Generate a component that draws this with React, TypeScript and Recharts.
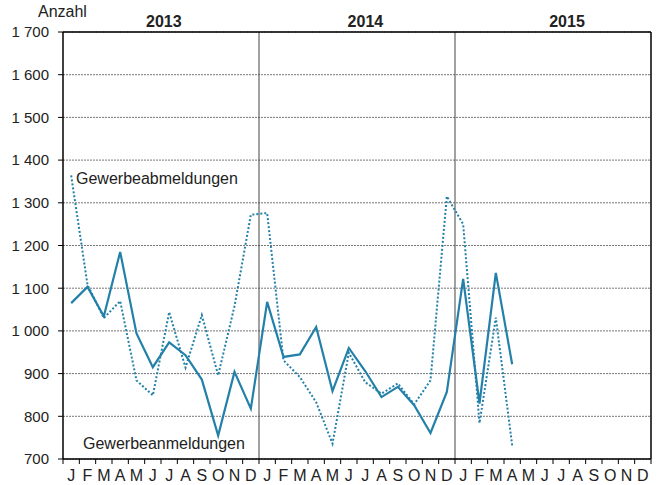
import { LineChart, Line, XAxis, YAxis, CartesianGrid, ReferenceLine } from 'recharts';

const years = ['2013', '2014', '2015'];
const monthLetters = ['J', 'F', 'M', 'A', 'M', 'J', 'J', 'A', 'S', 'O', 'N', 'D'];

// Gewerbeanmeldungen (solid line), Jan 2013 – Apr 2015
const anmeldungen = [
    1065, 1103, 1034, 1185, 994, 915, 973, 943, 886, 755, 904, 818,
    1068, 939, 945, 1009, 859, 960, 906, 845, 869, 826, 761, 857,
    1122, 830, 1136, 922,
];

// Gewerbeabmeldungen (dotted line)
const abmeldungen = [
    1364, 1108, 1030, 1070, 884, 849, 1044, 914, 1037, 896, 1058, 1272,
    1276, 931, 892, 833, 736, 949, 880, 853, 877, 828, 884, 1315,
    1250, 784, 1031, 732,
];

const yTicks = [700, 800, 900, 1000, 1100, 1200, 1300, 1400, 1500, 1600, 1700];

const COLOR = '#2380a9';
const FONT = '"Liberation Sans", Arial, sans-serif';

const data = years.flatMap((year, yi) =>
    monthLetters.map((m, mi) => {
        const i = yi * 12 + mi;
        return {
            x: i + 0.5,
            month: m,
            anm: i < anmeldungen.length ? anmeldungen[i] : null,
            abm: i < abmeldungen.length ? abmeldungen[i] : null,
        };
    })
);

// boundaries (integers) get a tick mark, band centres (halves) get the letter
const xTicks: number[] = [];
for (let i = 0; i <= 36; i++) {
    xTicks.push(i);
    if (i < 36) xTicks.push(i + 0.5);
}

const formatThousands = (v: number) => String(v).replace(/\B(?=(\d{3})+(?!\d))/g, ' ');

const MonthTick = (props: any) => {
    const { x, y, payload } = props;
    const v = payload.value as number;
    if (Number.isInteger(v)) {
        return <line x1={x} x2={x} y1={y} y2={y + 5} stroke="#000" strokeWidth={1} />;
    }
    const letter = monthLetters[Math.floor(v) % 12];
    return (
        <text x={x} y={y + 22} textAnchor="middle" fontSize={16} fontFamily={FONT} fill="#222">
            {letter}
        </text>
    );
};

const YearTick = (props: any) => {
    const { x, y, payload } = props;
    return (
        <text x={x} y={y - 5} textAnchor="middle" fontSize={16} fontWeight="bold" fontFamily={FONT} fill="#222">
            {years[Math.floor(payload.value / 12)]}
        </text>
    );
};

const labelStyle: React.CSSProperties = {
    position: 'absolute',
    fontFamily: FONT,
    fontSize: 16,
    lineHeight: '16px',
    color: '#222',
    whiteSpace: 'nowrap',
};

export default function App() {
    return (
        <div style={{ position: 'absolute', left: 0, top: 0, width: 659, height: 485, background: '#fff' }}>
            <LineChart width={659} height={485} data={data} margin={{ top: 0, right: 8, left: 0, bottom: 0 }}>
                <CartesianGrid vertical={false} stroke="#777" strokeDasharray="2 1" yAxisId="y" xAxisId="m" />
                <XAxis
                    xAxisId="m"
                    dataKey="x"
                    type="number"
                    domain={[0, 36]}
                    ticks={xTicks}
                    interval={0}
                    tickSize={0}
                    tickMargin={0}
                    tickLine={false}
                    tick={<MonthTick />}
                    axisLine={{ stroke: '#000', strokeWidth: 1.5 }}
                    height={26}
                    allowDecimals
                />
                <XAxis
                    xAxisId="year"
                    orientation="top"
                    type="number"
                    domain={[0, 36]}
                    ticks={[6, 18, 30]}
                    interval={0}
                    tickSize={0}
                    tickMargin={0}
                    tickLine={false}
                    tick={<YearTick />}
                    axisLine={{ stroke: '#000', strokeWidth: 1.5 }}
                    height={32}
                />
                <YAxis
                    yAxisId="y"
                    type="number"
                    domain={[700, 1700]}
                    ticks={yTicks}
                    interval={0}
                    width={63}
                    tickSize={5}
                    tickMargin={9}
                    tickFormatter={formatThousands}
                    tick={{ fontSize: 15, fontFamily: FONT, fill: '#222' }}
                    tickLine={{ stroke: '#000' }}
                    axisLine={{ stroke: '#000', strokeWidth: 1.5 }}
                />
                <ReferenceLine xAxisId="m" yAxisId="y" x={12} stroke="#444" strokeWidth={1} />
                <ReferenceLine xAxisId="m" yAxisId="y" x={24} stroke="#444" strokeWidth={1} />
                <ReferenceLine xAxisId="m" yAxisId="y" x={36} stroke="#000" strokeWidth={1.5} />
                <Line
                    xAxisId="m"
                    yAxisId="y"
                    dataKey="abm"
                    stroke={COLOR}
                    strokeWidth={2}
                    strokeDasharray="2 2"
                    dot={false}
                    activeDot={false}
                    isAnimationActive={false}
                />
                <Line
                    xAxisId="m"
                    yAxisId="y"
                    dataKey="anm"
                    stroke={COLOR}
                    strokeWidth={2.2}
                    dot={false}
                    activeDot={false}
                    isAnimationActive={false}
                />
            </LineChart>
            <div style={{ ...labelStyle, left: 38, top: 4 }}>Anzahl</div>
            <div style={{ ...labelStyle, left: 76, top: 171 }}>Gewerbeabmeldungen</div>
            <div style={{ ...labelStyle, left: 83, top: 436 }}>Gewerbeanmeldungen</div>
        </div>
    );
}
